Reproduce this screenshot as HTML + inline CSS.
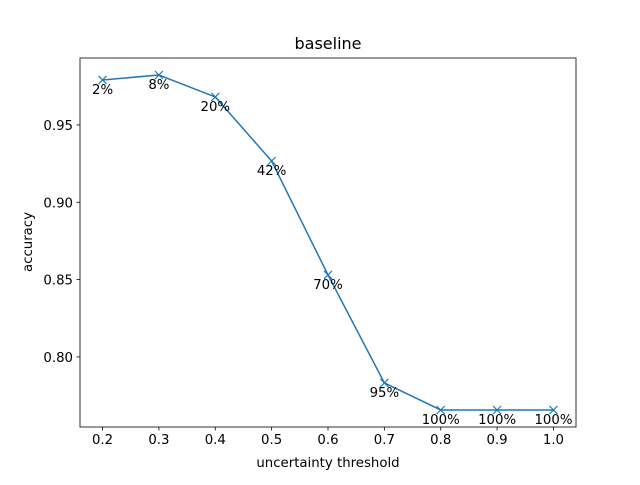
<!DOCTYPE html>
<html><head><meta charset="utf-8"><style>body{margin:0;background:#fff}svg{font-family:"DejaVu Sans","Liberation Sans",sans-serif}</style></head>
<body>
<svg id="c" width="640" height="480" xmlns="http://www.w3.org/2000/svg">
<rect width="640" height="480" fill="#fff"/>
<text x="328" y="49" font-size="16" text-anchor="middle">baseline</text>
<g id="ax"></g>
<text x="328" y="467" font-size="13.3" text-anchor="middle">uncertainty threshold</text>
<text transform="translate(32,242) rotate(-90)" font-size="13.3" text-anchor="middle">accuracy</text>
</svg>
<script>
const thresholds=[0.2,0.3,0.4,0.5,0.6,0.7,0.8,0.9,1.0];
const accuracy=[0.9791,0.9823,0.9681,0.9267,0.853,0.7832,0.7657,0.7657,0.7657];
const coverage=["2%","8%","20%","42%","70%","95%","100%","100%","100%"];
const xTicks=[0.2,0.3,0.4,0.5,0.6,0.7,0.8,0.9,1.0];
const xTickLabels=["0.2","0.3","0.4","0.5","0.6","0.7","0.8","0.9","1.0"];
const yTicks=[0.80,0.85,0.90,0.95];
const yTickLabels=["0.80","0.85","0.90","0.95"];
const L=80,R=576,T=58,B=427;
const xMin=0.16,xMax=1.04,yMin=0.7547,yMax=0.9933;
const X=v=>L+(v-xMin)/(xMax-xMin)*(R-L);
const Y=v=>B-(v-yMin)/(yMax-yMin)*(B-T);
const NS="http://www.w3.org/2000/svg";
const g=document.getElementById('ax');
function mk(t,a,p){const e=document.createElementNS(NS,t);for(const k in a)e.setAttribute(k,a[k]);(p||g).appendChild(e);return e;}
xTicks.forEach((v,i)=>{
  const l=mk('line',{x1:X(v),x2:X(v),y1:B,y2:B+3.5,stroke:'#000','stroke-width':0.8});
  
  
  const t=mk('text',{x:X(v),y:B+17,'font-size':13.3,'text-anchor':'middle'});
  t.textContent=xTickLabels[i];
  
  
});
yTicks.forEach((v,i)=>{
  const l=mk('line',{x1:L-3.5,x2:L,y1:Y(v),y2:Y(v),stroke:'#000','stroke-width':0.8});
  
  
  const t=mk('text',{x:L-7,y:Y(v)+5,'font-size':13.3,'text-anchor':'end'});
  t.textContent=yTickLabels[i];
  
  
});
const pts=thresholds.map((v,i)=>X(v)+','+Y(accuracy[i])).join(' ');
const pl=mk('polyline',{points:pts,fill:'none',stroke:'#1f77b4','stroke-width':1.5});


thresholds.forEach((v,i)=>{
  const x=X(v),y=Y(accuracy[i]);
  const m=mk('path',{d:`M${x-4},${y-4}L${x+4},${y+4}M${x-4},${y+4}L${x+4},${y-4}`,stroke:'#1f77b4','stroke-width':1.2});
  
  
  const t=mk('text',{x:x,y:y+14,'font-size':13.3,'text-anchor':'middle'});
  t.textContent=coverage[i];
  
  
});
const f=mk('rect',{x:L,y:T,width:R-L,height:B-T,fill:'none',stroke:'#000','stroke-width':0.8});


</script>
</body></html>
